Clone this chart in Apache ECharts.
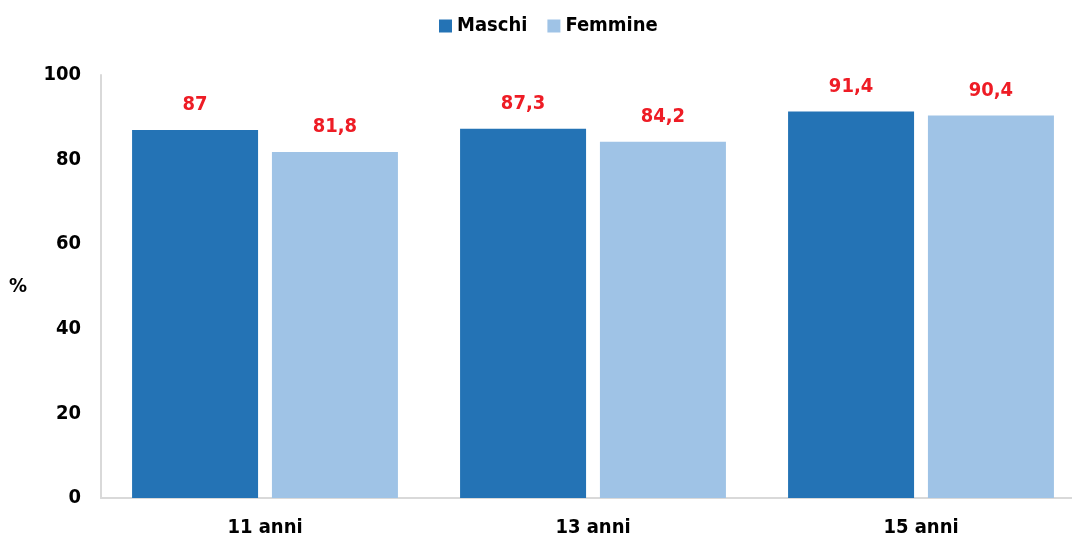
<!DOCTYPE html>
<html><head><meta charset="utf-8">
<script src="https://cdn.jsdelivr.net/npm/echarts@6/dist/echarts.min.js"></script>
<style>html,body{margin:0;padding:0;background:#fff;overflow:hidden}#c{width:1085px;height:540px}</style>
</head><body><div id="c"></div>
<script>
const categories = ['11 anni', '13 anni', '15 anni'];
const maschi = [87, 87.3, 91.4];
const femmine = [81.8, 84.2, 90.4];
const yTicks = [0, 20, 40, 60, 80, 100];

const FONT = '"DejaVu Sans Condensed", "DejaVu Sans", sans-serif';
const fmt = p => String(p.value).replace('.', ',');
const chart = echarts.init(document.getElementById('c'));
chart.setOption({
  animation: false,
  legend: {
    top: 11, left: 434, itemWidth: 13, itemHeight: 13, itemGap: 20,
    icon: 'rect',
    textStyle: { fontFamily: FONT, fontWeight: 'bold', fontSize: 20, color: '#000' },
    data: ['Maschi', 'Femmine']
  },
  grid: { left: 101, right: 0, top: 75, bottom: 42, containLabel: false },
  xAxis: {
    type: 'category', data: categories,
    axisLine: { lineStyle: { color: '#d9d9d9', width: 2 } },
    axisTick: { show: false },
    axisLabel: { margin: 20, fontFamily: FONT, fontWeight: 'bold', fontSize: 20, color: '#000' }
  },
  yAxis: {
    type: 'value', min: yTicks[0], max: yTicks[yTicks.length - 1], interval: 20,
    name: '%', nameLocation: 'middle', nameRotate: 0, nameGap: 74,
    nameTextStyle: { fontFamily: FONT, fontWeight: 'bold', fontSize: 20, color: '#000' },
    axisLine: { show: true, lineStyle: { color: '#d9d9d9', width: 2 } },
    axisTick: { show: false },
    splitLine: { show: false },
    axisLabel: { margin: 20, fontFamily: FONT, fontWeight: 'bold', fontSize: 20, color: '#000' }
  },
  series: [
    { name: 'Maschi', type: 'bar', data: maschi, barWidth: 126, barGap: '11%',
      itemStyle: { color: '#2473b5' },
      label: { show: true, position: 'top', distance: 15, formatter: fmt,
        fontFamily: FONT, fontWeight: 'bold', fontSize: 20, color: '#ee1c25' } },
    { name: 'Femmine', type: 'bar', data: femmine, barWidth: 126,
      itemStyle: { color: '#9fc3e6' },
      label: { show: true, position: 'top', distance: 15, formatter: fmt,
        fontFamily: FONT, fontWeight: 'bold', fontSize: 20, color: '#ee1c25' } }
  ]
});
</script></body></html>
